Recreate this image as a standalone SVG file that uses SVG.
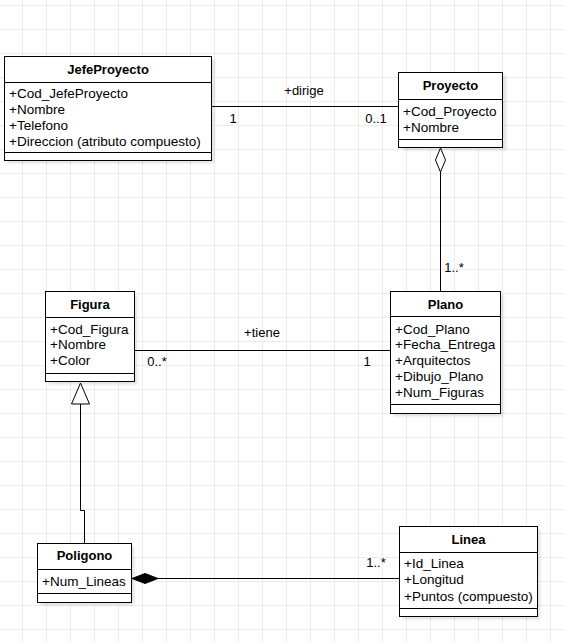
<svg xmlns="http://www.w3.org/2000/svg" width="565" height="642" viewBox="0 0 565 642">
  <defs>
    <pattern id="grid" patternUnits="userSpaceOnUse" x="22" y="5" width="24" height="24">
      <path d="M0 0.5 H24 M0.5 0 V24" fill="none" stroke="#ececec" stroke-width="1"/>
    </pattern>
    <filter id="shadow" x="-10%" y="-10%" width="130%" height="130%">
      <feGaussianBlur stdDeviation="1"/>
    </filter>
  </defs>
  <style>
    .box { fill: #ffffff; stroke: #000000; stroke-width: 1; }
    .shade { fill: #000000; opacity: 0.1; filter: url(#shadow); }
    .sep { stroke: #000000; stroke-width: 1; }
    .title { font-family: "Liberation Sans", Arial, sans-serif; font-size: 13px; font-weight: bold; text-anchor: middle; fill: #000; }
    .attr { font-family: "Liberation Sans", Arial, sans-serif; font-size: 13.5px; fill: #000; }
    .lbl { font-family: "Liberation Sans", Arial, sans-serif; font-size: 13px; fill: #000; text-anchor: middle; }
    .edge { fill: none; stroke: #000000; stroke-width: 1; }
  </style>

  <rect width="565" height="642" fill="#ffffff"/>
  <rect width="565" height="642" fill="url(#grid)"/>

  <!-- connectors -->
  <g id="connectors">
    <!-- JefeProyecto dirige Proyecto -->
    <path class="edge" d="M211 106.5 H399"/>
    <text class="lbl" x="304" y="95">+dirige</text>
    <text class="lbl" x="233" y="123">1</text>
    <text class="lbl" x="376" y="123">0..1</text>

    <!-- Proyecto aggregates Plano -->
    <path class="edge" d="M440.5 172 V292"/>
    <path d="M440.5 148 L445.5 160 L440.5 172 L435.5 160 Z" fill="#ffffff" stroke="#000" stroke-width="1"/>
    <text class="lbl" x="454" y="272">1..*</text>

    <!-- Plano tiene Figura -->
    <path class="edge" d="M134 350.5 H391"/>
    <text class="lbl" x="262" y="337">+tiene</text>
    <text class="lbl" x="157" y="366">0..*</text>
    <text class="lbl" x="367" y="366">1</text>

    <!-- Poligono generalizes to Figura -->
    <path class="edge" d="M80.5 404 V510.5 H84.5 V543"/>
    <path d="M80.5 383 L89.5 404 L71.5 404 Z" fill="#ffffff" stroke="#000" stroke-width="1"/>

    <!-- Poligono composed of Linea -->
    <path class="edge" d="M158 578.5 H399"/>
    <path d="M132 578.5 L145 573.5 L158 578.5 L145 583.5 Z" fill="#000000" stroke="#000" stroke-width="1"/>
    <text class="lbl" x="376" y="567">1..*</text>
  </g>

  <!-- JefeProyecto -->
  <g id="JefeProyecto">
    <rect class="shade" x="7.5" y="59.5" width="207" height="104"/>
    <rect class="box" x="4.5" y="56.5" width="207" height="104"/>
    <line class="sep" x1="4.5" y1="82.5" x2="211.5" y2="82.5"/>
    <line class="sep" x1="4.5" y1="152.5" x2="211.5" y2="152.5"/>
    <text class="title" x="108" y="74">JefeProyecto</text>
    <text class="attr" x="9" y="98">+Cod_JefeProyecto</text>
    <text class="attr" x="9" y="114">+Nombre</text>
    <text class="attr" x="9" y="130">+Telefono</text>
    <text class="attr" x="9" y="146">+Direccion (atributo compuesto)</text>
  </g>

  <!-- Proyecto -->
  <g id="Proyecto">
    <rect class="shade" x="402.5" y="75.5" width="104" height="75"/>
    <rect class="box" x="398.5" y="72.5" width="104" height="75"/>
    <line class="sep" x1="398.5" y1="99.5" x2="502.5" y2="99.5"/>
    <line class="sep" x1="398.5" y1="139.5" x2="502.5" y2="139.5"/>
    <text class="title" x="450.5" y="90">Proyecto</text>
    <text class="attr" x="403" y="115.5">+Cod_Proyecto</text>
    <text class="attr" x="403" y="131.5">+Nombre</text>
  </g>

  <!-- Figura -->
  <g id="Figura">
    <rect class="shade" x="48.5" y="294.5" width="89" height="90"/>
    <rect class="box" x="45.5" y="291.5" width="89" height="90"/>
    <line class="sep" x1="45.5" y1="317.5" x2="134.5" y2="317.5"/>
    <line class="sep" x1="45.5" y1="373.5" x2="134.5" y2="373.5"/>
    <text class="title" x="90" y="309">Figura</text>
    <text class="attr" x="50" y="334">+Cod_Figura</text>
    <text class="attr" x="50" y="349">+Nombre</text>
    <text class="attr" x="50" y="365">+Color</text>
  </g>

  <!-- Plano -->
  <g id="Plano">
    <rect class="shade" x="393.5" y="294.5" width="110" height="122"/>
    <rect class="box" x="390.5" y="291.5" width="110" height="122"/>
    <line class="sep" x1="390.5" y1="316.5" x2="500.5" y2="316.5"/>
    <line class="sep" x1="390.5" y1="404.5" x2="500.5" y2="404.5"/>
    <text class="title" x="445.5" y="309">Plano</text>
    <text class="attr" x="395" y="334">+Cod_Plano</text>
    <text class="attr" x="395" y="349">+Fecha_Entrega</text>
    <text class="attr" x="395" y="365">+Arquitectos</text>
    <text class="attr" x="395" y="381">+Dibujo_Plano</text>
    <text class="attr" x="395" y="396.5">+Num_Figuras</text>
  </g>

  <!-- Poligono -->
  <g id="Poligono">
    <rect class="shade" x="40.5" y="546.5" width="94" height="59"/>
    <rect class="box" x="37.5" y="543.5" width="94" height="59"/>
    <line class="sep" x1="37.5" y1="569.5" x2="131.5" y2="569.5"/>
    <line class="sep" x1="37.5" y1="593.5" x2="131.5" y2="593.5"/>
    <text class="title" x="84.5" y="560">Poligono</text>
    <text class="attr" x="42" y="585.5">+Num_Lineas</text>
  </g>

  <!-- Linea -->
  <g id="Linea">
    <rect class="shade" x="402.5" y="529.5" width="138" height="90"/>
    <rect class="box" x="399.5" y="526.5" width="138" height="90"/>
    <line class="sep" x1="399.5" y1="552.5" x2="537.5" y2="552.5"/>
    <line class="sep" x1="399.5" y1="608.5" x2="537.5" y2="608.5"/>
    <text class="title" x="468.5" y="544">Linea</text>
    <text class="attr" x="404" y="568">+Id_Linea</text>
    <text class="attr" x="404" y="584">+Longitud</text>
    <text class="attr" x="404" y="600.5">+Puntos (compuesto)</text>
  </g>
</svg>
